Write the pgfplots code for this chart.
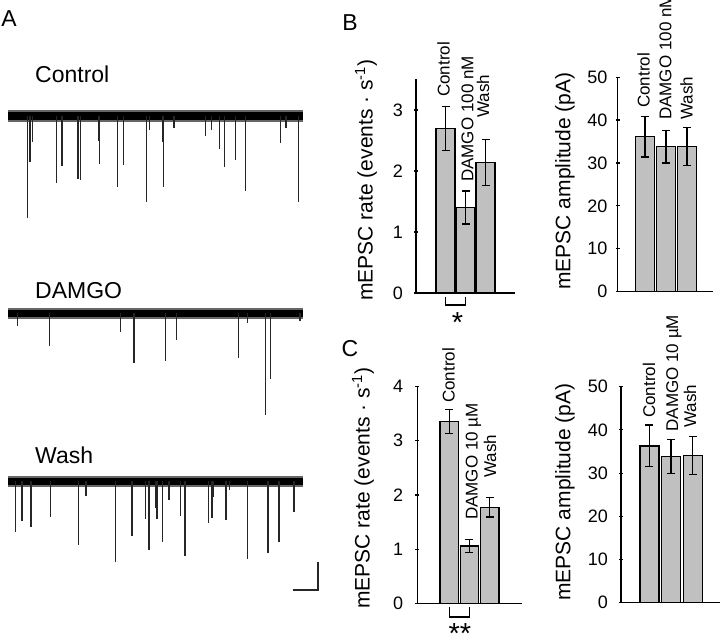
\documentclass[border=0pt]{standalone}
\usepackage{fontspec}
\setmainfont{Liberation Sans}
\usepackage{pgfplots}
\pgfplotsset{compat=1.18}
\definecolor{bargray}{RGB}{192,192,192}

\pgfplotsset{
  trace/.style={hide axis, clip=false, x=1pt, y=1pt,
    xmin=0, xmax=330, ymin=-150, ymax=20, anchor=south west},
  spikes/.style={ycomb, black!85, line width=1.1pt, mark=none},
  noise/.style={mark=none, line width=#1},
  barpanel/.style={anchor=south west, clip=false,
    axis x line*=bottom, axis y line*=left,
    axis line style={-, line width=1.2pt},
    xtick=\empty, ymin=0,
    tick style={black, line width=1.2pt}, tick align=center,
    major tick length=4pt,
    /pgf/number format/assume math mode=true,
    yticklabel style={font=\fontsize{18}{20}\selectfont, anchor=east, inner sep=0pt},
    ybar},
  bars/.style={fill=bargray, draw=black, line width=1.3pt,
    error bars/.cd, y dir=both, y explicit,
    error bar style={line width=1.3pt, black},
    error mark options={rotate=90, mark size=4pt, line width=1.3pt, black}},
}
\tikzset{barlab/.style={font=\fontsize{17}{19}\selectfont, rotate=90, anchor=west, inner sep=0pt}}

\begin{document}
\begin{tikzpicture}[x=1pt, y=1pt]
\useasboundingbox (0,0) rectangle (720,633);

% ---- panel A: traces ----
\node[font=\fontsize{23}{26}\selectfont, anchor=center] at (9,614.5) {A};
\node[font=\fontsize{23}{26}\selectfont, anchor=base west, inner sep=0pt] at (35,550) {Control};
\node[font=\fontsize{23}{26}\selectfont, anchor=base west, inner sep=0pt] at (35,335) {DAMGO};
\node[font=\fontsize{23}{26}\selectfont, anchor=base west, inner sep=0pt] at (35,170) {Wash};

% Control
\begin{axis}[trace, at={(0pt,367pt)}]
\addplot[noise=12pt, black!60] coordinates {(8,0) (303,0)};
\addplot[noise=8pt, black] coordinates {(8,0) (303,0)};
\addplot[spikes] coordinates {
(27.3,-102) (30,-46) (32.7,-26) (56.7,-67) (62,-50) (78,-63) (80.3,-64)
(99,-25) (99.7,-48) (117.3,-71) (123.3,-49) (146.7,-86) (149.3,-14)
(162.7,-26) (163.7,-71) (174,-12) (205.3,-20) (211.3,-14) (219.3,-33)
(224.7,-51) (235.7,-44) (245.7,-75) (280.7,-27) (286,-12) (298.3,-86)};
\end{axis}

% DAMGO
\begin{axis}[trace, at={(0pt,170pt)}]
\addplot[noise=11pt, black!60] coordinates {(8,0) (303,0)};
\addplot[noise=7pt, black] coordinates {(8,0) (303,0)};
\addplot[spikes] coordinates {
(17.7,-13) (49.3,-33) (120.7,-18.7) (134,-50) (165.7,-47.7) (176.7,-27)
(238.7,-44.7) (247.3,-9.7) (265.3,-102) (270.3,-66.3) (300,-8)};
\end{axis}

% Wash
\begin{axis}[trace, at={(0pt,2pt)}]
\addplot[noise=11pt, black!60] coordinates {(8,0) (303,0)};
\addplot[noise=7pt, black] coordinates {(8,0) (303,0)};
\addplot[spikes] coordinates {
(15.7,-50.7) (22,-39.7) (31,-46.3) (50.7,-36.3) (78.7,-64) (86,-15)
(115.3,-80.7) (132,-55) (145.3,-38) (149,-69) (155.7,-27.3) (157,-38.3)
(162.7,-60.7) (169,-19) (180.7,-35) (185,-75) (208.7,-41.7) (212,-36.7)
(213.7,-16.3) (226,-39) (229.3,-9) (247.7,-78.3) (268,-71.7) (279,-60.7)
(294,-30.7)};
\end{axis}

% scale bar
\draw[line width=2pt, black!85] (292.7,43) -- (318.3,43) -- (318.3,71);

% ---- panel B ----
\node[font=\fontsize{23}{26}\selectfont, anchor=center] at (350,610) {B};
\begin{axis}[barpanel, at={(416pt,340pt)}, x=20pt, y=61pt,
  xmin=-0.475, xmax=4.475, ymax=3.5, ytick={0,1,2,3}, bar width=0.95,
  yticklabel style={xshift=-11pt}]
\addplot[bars] coordinates {(1,2.70) +- (0,0.36) (2,1.40) +- (0,0.27) (3,2.14) +- (0,0.38)};
\draw[line width=1.3pt] (axis cs:1,-0.066) -- (axis cs:1,-0.197) -- (axis cs:2,-0.197) -- (axis cs:2,-0.066);
\node[font=\fontsize{29}{30}\selectfont, anchor=north, inner sep=0pt] at (axis cs:1.6,-0.32) {*};
\end{axis}
\node[font=\fontsize{21}{24}\selectfont, rotate=90] at (366,453) {mEPSC rate (events · s\textsuperscript{-1})};
\node[barlab] at (443.5,536) {Control};
\node[barlab] at (467.5,451) {DAMGO 100 nM};
\node[barlab] at (483,515) {Wash};

\begin{axis}[barpanel, at={(617.7pt,341.3pt)}, x=21pt, y=4.29pt,
  xmin=-0.3, xmax=4.22, ymax=50, ytick={0,10,...,50}, bar width=0.88,
  yticklabel style={xshift=-8pt}]
\addplot[bars] coordinates {(1,36.1) +- (0,4.7) (2,33.8) +- (0,3.8) (3,33.8) +- (0,4.4)};
\end{axis}
\node[font=\fontsize{21}{24}\selectfont, rotate=90] at (565,452) {mEPSC amplitude (pA)};
\node[barlab] at (643.5,525) {Control};
\node[barlab] at (665.5,513) {DAMGO 100 nM};
\node[barlab] at (686.5,513) {Wash};

% ---- panel C ----
\node[font=\fontsize{23}{26}\selectfont, anchor=center] at (350,284.3) {C};
\begin{axis}[barpanel, at={(417.3pt,29.7pt)}, x=20.3pt, y=54.2pt,
  xmin=-0.57, xmax=4.57, ymax=4, ytick={0,1,2,3,4}, bar width=0.9,
  yticklabel style={xshift=-12pt}]
\addplot[bars] coordinates {(1,3.35) +- (0,0.22) (2,1.06) +- (0,0.12) (3,1.77) +- (0,0.18)};
\draw[line width=1.3pt] (axis cs:1,-0.068) -- (axis cs:1,-0.253) -- (axis cs:2,-0.253) -- (axis cs:2,-0.068);
\node[font=\fontsize{29}{30}\selectfont, anchor=north, inner sep=0pt] at (axis cs:1.53,-0.37) {**};
\end{axis}
\node[font=\fontsize{21}{24}\selectfont, rotate=90] at (363,145) {mEPSC rate (events · s\textsuperscript{-1})};
\node[barlab] at (448.5,230) {Control};
\node[barlab] at (473.5,113) {DAMGO 10 µM};
\node[barlab] at (490,155) {Wash};

\begin{axis}[barpanel, at={(621pt,30.3pt)}, x=21.7pt, y=4.32pt,
  xmin=-0.31, xmax=4.25, ymax=50, ytick={0,10,...,50}, bar width=0.875,
  yticklabel style={xshift=-11pt}]
\addplot[bars] coordinates {(1,36.3) +- (0,4.8) (2,33.8) +- (0,3.9) (3,34.0) +- (0,4.4)};
\end{axis}
\node[font=\fontsize{21}{24}\selectfont, rotate=90] at (565,141) {mEPSC amplitude (pA)};
\node[barlab] at (649,215) {Control};
\node[barlab] at (674,201.3) {DAMGO 10 µM};
\node[barlab] at (690,205) {Wash};
\end{tikzpicture}
\end{document}
